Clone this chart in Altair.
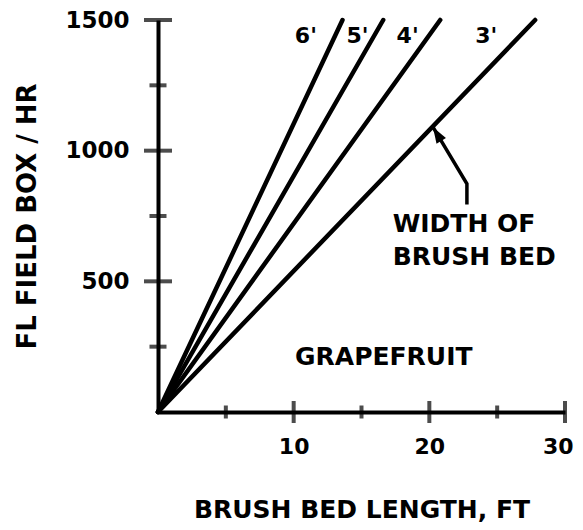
import altair as alt
import pandas as pd

# Brush bed widths and the bed length (ft) at which each line reaches 1500 boxes/hr
widths = ["6'", "5'", "4'", "3'"]
length_at_top = [13.6, 16.6, 20.8, 27.8]
capacity_top = 1500

# label positions for the width labels (data units)
label_x = [10.9, 14.7, 18.4, 24.2]
label_y = [1440, 1440, 1440, 1440]

# axis ticks
x_tick_vals = [5, 10, 15, 20, 25, 30]
y_tick_vals = [250, 500, 750, 1000, 1250, 1500]

# arrow path (data units)
arrow_x = [22.77, 22.77, 20.27]
arrow_y = [794, 873, 1090]

FONT = "DejaVu Sans"

rows = []
for w, L in zip(widths, length_at_top):
    rows.append({"w": w, "x": 0, "y": 0})
    rows.append({"w": w, "x": L, "y": capacity_top})
lines_df = pd.DataFrame(rows)

xs = alt.Scale(domain=[0, 30], nice=False)
ys = alt.Scale(domain=[0, 1500], nice=False)

lines = alt.Chart(lines_df).mark_line(color="black", strokeWidth=4.5, strokeCap="round").encode(
    x=alt.X("x:Q", scale=xs, axis=alt.Axis(
        values=[10, 20, 30], format="d", title="BRUSH BED LENGTH, FT", grid=False, ticks=False, tickSize=0,
        domainColor="black", domainWidth=4, labelFont=FONT, labelFontWeight="bold",
        labelFontSize=22, labelColor="black", labelPadding=24, labelFlush=True,
        labelFlushOffset=8,
        titleFont=FONT, titleFontWeight="bold", titleFontSize=25, titleColor="black",
        titlePadding=40)),
    y=alt.Y("y:Q", scale=ys, axis=alt.Axis(
        values=[500, 1000, 1500], format="d", title="FL FIELD BOX / HR", grid=False, ticks=False, tickSize=0,
        domainColor="black", domainWidth=4, labelFont=FONT, labelFontWeight="bold",
        labelFontSize=23, labelColor="black", labelPadding=29, labelFlush=False,
        titleFont=FONT, titleFontWeight="bold", titleFontSize=26, titleColor="black",
        titlePadding=24)),
    detail="w:N",
)

xt_df = pd.DataFrame({"x": x_tick_vals, "y": [0] * len(x_tick_vals),
                      "len": [22 if v % 10 == 0 else 13 for v in x_tick_vals]})
yt_df = pd.DataFrame({"x": [0] * len(y_tick_vals), "y": y_tick_vals,
                      "len": [28 if v % 500 == 0 else 17 for v in y_tick_vals]})

xticks = alt.Chart(xt_df).mark_tick(orient="vertical", color="black", thickness=4).encode(
    x=alt.X("x:Q", scale=xs), y=alt.Y("y:Q", scale=ys),
    size=alt.Size("len:Q", scale=None, legend=None))
yticks = alt.Chart(yt_df).mark_tick(orient="horizontal", color="black", thickness=4).encode(
    x=alt.X("x:Q", scale=xs), y=alt.Y("y:Q", scale=ys),
    size=alt.Size("len:Q", scale=None, legend=None))

wl_df = pd.DataFrame({"t": widths, "x": label_x, "y": label_y})
wlabels = alt.Chart(wl_df).mark_text(font=FONT, fontWeight="bold", fontSize=22, color="black").encode(
    x=alt.X("x:Q", scale=xs), y=alt.Y("y:Q", scale=ys), text="t:N")

ann_df = pd.DataFrame({"t": ["GRAPEFRUIT", "WIDTH OF", "BRUSH BED"],
                       "x": [10.1, 17.3, 17.3], "y": [209, 718, 592]})
ann = alt.Chart(ann_df).mark_text(font=FONT, fontWeight="bold", fontSize=25, color="black",
                                  align="left", baseline="middle").encode(
    x=alt.X("x:Q", scale=xs), y=alt.Y("y:Q", scale=ys), text="t:N")

arr_df = pd.DataFrame({"x": arrow_x, "y": arrow_y, "o": [0, 1, 2]})
arrow_line = alt.Chart(arr_df).mark_line(color="black", strokeWidth=3.5).encode(
    x=alt.X("x:Q", scale=xs), y=alt.Y("y:Q", scale=ys), order="o:Q")
head_df = arr_df.iloc[[2]]
arrow_head = alt.Chart(head_df).mark_point(
    shape="M0,0L0.55,1.6L-0.55,1.6Z", filled=True, color="black", opacity=1,
    size=400, angle=329).encode(
    x=alt.X("x:Q", scale=xs), y=alt.Y("y:Q", scale=ys))

chart = alt.layer(lines, xticks, yticks, wlabels, ann, arrow_line, arrow_head).properties(
    width=407, height=392,
    padding={"left": 150, "top": 12, "right": 10, "bottom": 110},
    autosize=alt.AutoSizeParams(type="none"),
).configure_view(stroke=None)

chart.save("out.html", embed_options={"renderer": "svg", "actions": False})
